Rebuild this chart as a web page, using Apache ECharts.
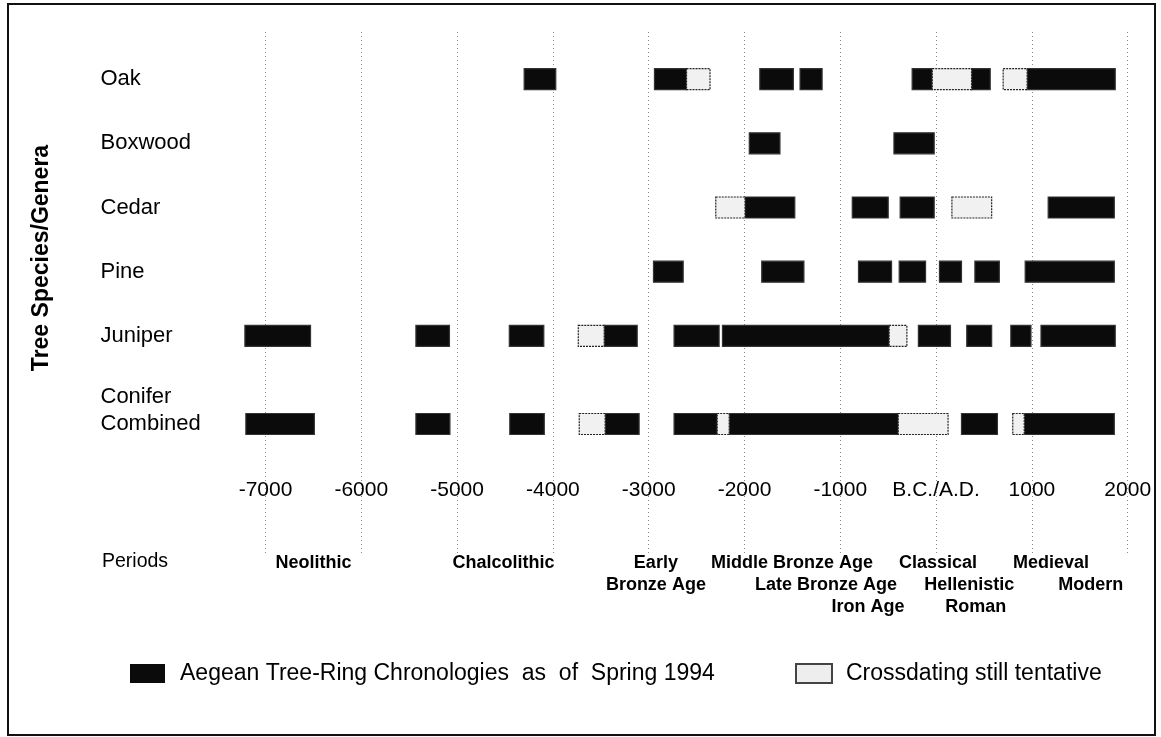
<!DOCTYPE html>
<html>
<head>
<meta charset="utf-8">
<script src="https://cdn.jsdelivr.net/npm/echarts@6/dist/echarts.min.js"></script>
<style>
html,body{margin:0;padding:0;background:#fff;}
#chart{width:1161px;height:737px;}
</style>
</head>
<body>
<div id="chart"></div>
<script>
// ---------- DATA ----------
const categories = ['Oak', 'Boxwood', 'Cedar', 'Pine', 'Juniper', 'Conifer\nCombined'];
const tickLabels = ['-7000', '-6000', '-5000', '-4000', '-3000', '-2000', '-1000', 'B.C./A.D.', '1000', '2000'];
const xMin = -7000, xMax = 2000, xStep = 1000;

// [start year, end year] spans, established chronologies
const oakFirm = [[-4300, -3970], [-2940, -2605], [-1840, -1490], [-1420, -1190], [-250, -40], [370, 565], [950, 1870]];
const oakTentative = [[-2605, -2360], [-40, 370], [700, 950]];
const boxwoodFirm = [[-1950, -1630], [-440, -20]];
const boxwoodTentative = [];
const cedarFirm = [[-1995, -1475], [-875, -500], [-375, -20], [1170, 1860]];
const cedarTentative = [[-2300, -1995], [165, 580]];
const pineFirm = [[-2950, -2640], [-1820, -1380], [-810, -465], [-385, -110], [35, 265], [405, 660], [930, 1860]];
const pineTentative = [];
const juniperFirm = [[-7215, -6530], [-5430, -5080], [-4455, -4095], [-3465, -3120], [-2735, -2265], [-2230, -490], [-185, 150], [320, 580], [780, 990], [1095, 1870]];
const juniperTentative = [[-3735, -3465], [-490, -305]];
const coniferFirm = [[-7205, -6490], [-5430, -5075], [-4450, -4090], [-3455, -3100], [-2735, -2285], [-2160, -395], [265, 640], [920, 1860]];
const coniferTentative = [[-3725, -3455], [-2285, -2160], [-395, 125], [800, 920]];

// Period labels: name, anchor year, text line
const periodNames = ['Neolithic', 'Chalcolithic', 'Early', 'Bronze Age', 'Middle Bronze Age', 'Late Bronze Age', 'Iron Age', 'Classical', 'Hellenistic', 'Roman', 'Medieval', 'Modern'];
const periodYears = [-6500, -4515, -2925, -2925, -1505, -1150, -710, 20, 345, 415, 1200, 1615];
const periodLines = [0, 0, 0, 1, 0, 1, 2, 0, 1, 2, 0, 1];

const LEG_FIRM = 'Aegean Tree-Ring Chronologies  as  of  Spring 1994';
const LEG_TENT = 'Crossdating still tentative';

// ---------- BUILD ----------
const FONT = "'Liberation Sans', Arial, sans-serif";
const topFirm = [], topTent = [];
[[oakFirm, oakTentative], [boxwoodFirm, boxwoodTentative], [cedarFirm, cedarTentative], [pineFirm, pineTentative], [juniperFirm, juniperTentative]]
  .forEach(([f, t], i) => {
    f.forEach(([s, e]) => topFirm.push([i, s, e]));
    t.forEach(([s, e]) => topTent.push([i, s, e]));
  });
const botFirm = coniferFirm.map(([s, e]) => [0, s, e]);
const botTent = coniferTentative.map(([s, e]) => [0, s, e]);

const BAR_H = 21;
function makeRender(fill, stroke, dash) {
  return function (params, api) {
    const c = api.value(0);
    const p0 = api.coord([api.value(1), c]);
    const p1 = api.coord([api.value(2), c]);
    return {
      type: 'rect',
      shape: { x: p0[0], y: p0[1] - BAR_H / 2, width: p1[0] - p0[0], height: BAR_H },
      style: { fill: fill, stroke: stroke, lineWidth: 1.2, lineDash: dash }
    };
  };
}
const firmRender = makeRender('#0b0b0b', '#333', null);
const tentRender = makeRender('#f1f1f1', '#222', [2, 1]);

const periodData = periodNames.map((n, i) => [periodYears[i], periodLines[i], n]);

const axisBase = { min: xMin, max: xMax, interval: xStep, type: 'value' };
const LABEL_MARGIN = 165;

const option = {
  animation: false,
  backgroundColor: '#fff',
  textStyle: { fontFamily: FONT },
  grid: [
    { left: 265.5, right: 33.3, top: 32, bottom: 182 },
    { left: 265.5, right: 33.3, top: 47, height: 321 },
    { left: 265.5, right: 33.3, top: 392, height: 64 }
  ],
  xAxis: [
    Object.assign({ gridIndex: 0, axisLine: { show: false }, axisTick: { show: false }, axisLabel: { show: false },
      splitLine: { show: true, lineStyle: { color: '#8a8a8a', type: [1, 3], width: 1 } } }, axisBase),
    Object.assign({ gridIndex: 1, show: false, splitLine: { show: false } }, axisBase),
    Object.assign({ gridIndex: 2, axisLine: { show: false }, axisTick: { show: false }, splitLine: { show: false },
      axisLabel: { show: true, margin: 24, fontSize: 21, color: '#000', fontFamily: FONT, hideOverlap: false,
        showMinLabel: true, showMaxLabel: true,
        formatter: v => tickLabels[Math.round((v - xMin) / xStep)] } }, axisBase)
  ],
  yAxis: [
    { gridIndex: 0, type: 'value', min: 0, max: 1, show: false },
    { gridIndex: 1, type: 'category', data: categories.slice(0, 5), inverse: true,
      axisLine: { show: false }, axisTick: { show: false }, splitLine: { show: false },
      axisLabel: { align: 'left', margin: LABEL_MARGIN, fontSize: 22, color: '#000', fontFamily: FONT } },
    { gridIndex: 2, type: 'category', data: categories.slice(5), inverse: true,
      axisLine: { show: false }, axisTick: { show: false }, splitLine: { show: false },
      axisLabel: { align: 'left', margin: LABEL_MARGIN, fontSize: 22, color: '#000', fontFamily: FONT,
        lineHeight: 27, formatter: v => v + '\n ' } }
  ],
  legend: [
    { left: 125, top: 657, itemWidth: 35, itemHeight: 19, icon: 'rect', data: [LEG_FIRM], selectedMode: false,
      textStyle: { fontSize: 23, color: '#000', fontFamily: FONT, padding: [0, 0, 0, 10] } },
    { left: 790, top: 657, itemWidth: 36, itemHeight: 19, icon: 'rect', data: [LEG_TENT], selectedMode: false,
      textStyle: { fontSize: 23, color: '#000', fontFamily: FONT, padding: [0, 0, 0, 9] } }
  ],
  graphic: [
    { type: 'rect', shape: { x: 8, y: 4, width: 1147, height: 731 }, style: { fill: 'none', stroke: '#111', lineWidth: 2 }, silent: true },
    { type: 'text', x: 42, y: 258, rotation: Math.PI / 2,
      style: { text: 'Tree Species/Genera', font: "bold 23px " + FONT, fill: '#000', textAlign: 'center', textVerticalAlign: 'middle' } },
    { type: 'text', x: 102, y: 562,
      style: { text: 'Periods', font: "19.5px " + FONT, fill: '#000', textAlign: 'left', textVerticalAlign: 'middle' } }
  ],
  series: [
    { name: LEG_FIRM, type: 'custom', xAxisIndex: 1, yAxisIndex: 1, renderItem: firmRender,
      itemStyle: { color: '#0b0b0b' }, encode: { x: [1, 2], y: 0 }, data: topFirm },
    { name: LEG_TENT, type: 'custom', xAxisIndex: 1, yAxisIndex: 1, renderItem: tentRender,
      itemStyle: { color: '#eeeeee', borderColor: '#444', borderWidth: 1 }, encode: { x: [1, 2], y: 0 }, data: topTent },
    { name: LEG_FIRM, type: 'custom', xAxisIndex: 2, yAxisIndex: 2, renderItem: firmRender,
      itemStyle: { color: '#0b0b0b' }, encode: { x: [1, 2], y: 0 }, data: botFirm },
    { name: LEG_TENT, type: 'custom', xAxisIndex: 2, yAxisIndex: 2, renderItem: tentRender,
      itemStyle: { color: '#eeeeee', borderColor: '#444', borderWidth: 1 }, encode: { x: [1, 2], y: 0 }, data: botTent },
    { name: 'periods', type: 'custom', xAxisIndex: 0, yAxisIndex: 0, silent: true,
      data: periodData, encode: { x: 0 },
      renderItem: function (params, api) {
        const p = api.coord([api.value(0), 0]);
        return { type: 'text', x: p[0], y: p[1] + 8 + api.value(1) * 22,
          style: { text: periodNames[params.dataIndex], font: "bold 18px " + FONT, fill: '#000',
            textAlign: 'center', textVerticalAlign: 'middle' } };
      } }
  ]
};

const chart = echarts.init(document.getElementById('chart'), null, { renderer: 'canvas' });
chart.setOption(option);
</script>
</body>
</html>
